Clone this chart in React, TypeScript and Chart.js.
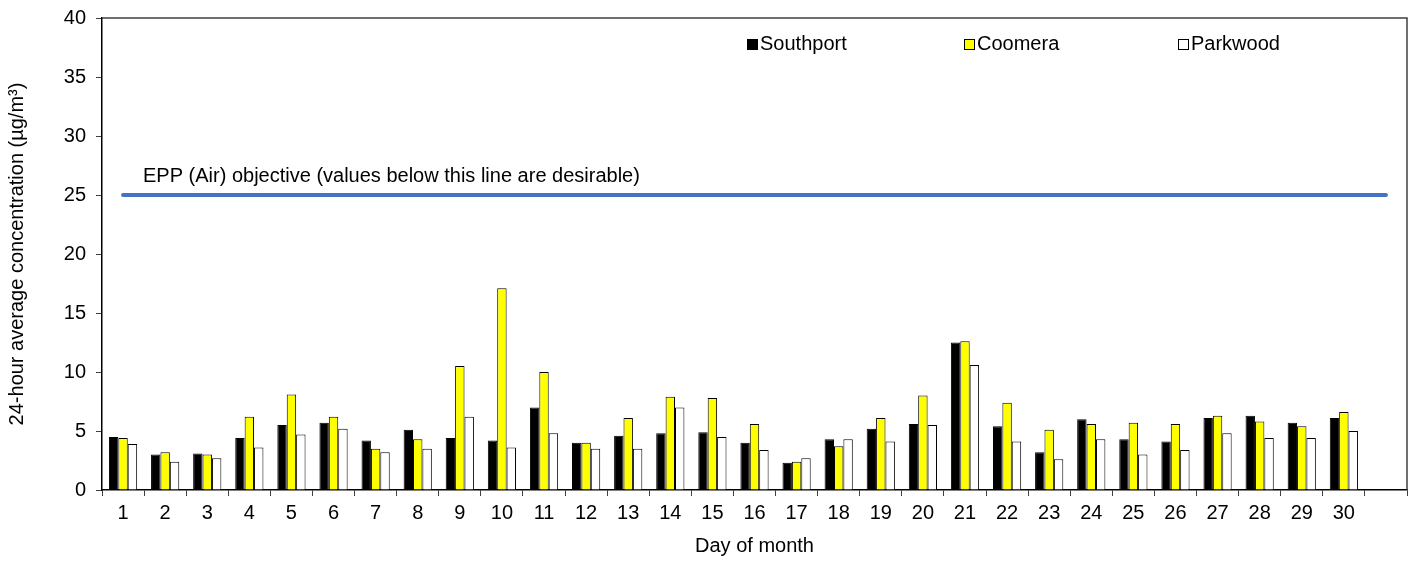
import React, { useEffect, useRef } from "react";
import { Chart, registerables } from "chart.js";

Chart.register(...registerables);

const days = ["1","2","3","4","5","6","7","8","9","10","11","12","13","14","15","16","17","18","19","20","21","22","23","24","25","26","27","28","29","30",""];

const southport = [4.5,3.0,3.1,4.4,5.5,5.7,4.2,5.1,4.4,4.2,7.0,4.0,4.6,4.8,4.9,4.0,2.3,4.3,5.2,5.6,12.5,5.4,3.2,6.0,4.3,4.1,6.1,6.3,5.7,6.1,null];
const coomera = [4.4,3.2,3.0,6.2,8.1,6.2,3.5,4.3,10.5,17.1,10.0,4.0,6.1,7.9,7.8,5.6,2.4,3.7,6.1,8.0,12.6,7.4,5.1,5.6,5.7,5.6,6.3,5.8,5.4,6.6,null];
const parkwood = [3.9,2.4,2.7,3.6,4.7,5.2,3.2,3.5,6.2,3.6,4.8,3.5,3.5,7.0,4.5,3.4,2.7,4.3,4.1,5.5,10.6,4.1,2.6,4.3,3.0,3.4,4.8,4.4,4.4,5.0,null];

const objectiveValue = 25;
const objectiveLabel = "EPP (Air) objective (values below this line are desirable)";
const yTicks = [0, 5, 10, 15, 20, 25, 30, 35, 40];

const seriesNames = ["Southport", "Coomera", "Parkwood"];
const seriesColors = ["#000000", "#FFFF00", "#FFFFFF"];

const FONT = "'Liberation Sans', Arial, sans-serif";

const overlayPlugin = {
  id: "overlay",
  afterDraw(chart: any) {
    const { ctx, chartArea, scales } = chart;
    ctx.save();
    // chart area frame (top and right)
    ctx.strokeStyle = "#404040";
    ctx.lineWidth = 1.5;
    ctx.beginPath();
    ctx.moveTo(chartArea.left, chartArea.top);
    ctx.lineTo(chartArea.right, chartArea.top);
    ctx.lineTo(chartArea.right, chartArea.bottom);
    ctx.stroke();

    // objective label
    ctx.fillStyle = "#000";
    ctx.font = `20px ${FONT}`;
    ctx.textBaseline = "alphabetic";
    ctx.textAlign = "left";
    const yLine = scales.y.getPixelForValue(objectiveValue);
    ctx.fillText(objectiveLabel, chartArea.left + 41, yLine - 13);

    // legend
    const offsets = [645, 862, 1076];
    const boxTop = chartArea.top + 21;
    const baseline = chartArea.top + 32;
    seriesNames.forEach((name, i) => {
      const x = chartArea.left + offsets[i];
      ctx.fillStyle = seriesColors[i];
      ctx.fillRect(x, boxTop, 10, 10);
      ctx.strokeStyle = "#000";
      ctx.lineWidth = 1;
      ctx.strokeRect(x + 0.5, boxTop + 0.5, 10, 10);
      ctx.fillStyle = "#000";
      ctx.fillText(name, x + 13, baseline);
    });
    ctx.restore();
  },
};

export default function App() {
  const ref = useRef<HTMLCanvasElement | null>(null);
  useEffect(() => {
    if (!ref.current) return;
    const chart = new Chart(ref.current, {
      type: "bar",
      data: {
        labels: days,
        datasets: [
          {
            type: "line",
            label: "Objective",
            data: days.map(() => objectiveValue),
            borderColor: "#4472C4",
            borderWidth: 4,
            borderCapStyle: "round",
            pointRadius: 0,
            fill: false,
          } as any,
          ...seriesNames.map((name, i) => ({
            label: name,
            data: [southport, coomera, parkwood][i],
            backgroundColor: seriesColors[i],
            borderColor: "#000",
            borderWidth: 1,
            categoryPercentage: 0.67,
            barPercentage: 1.0,
          })),
        ],
      },
      options: {
        responsive: false,
        animation: false,
        layout: { padding: { top: 18, right: 11, left: 0, bottom: 0 } },
        plugins: { legend: { display: false }, tooltip: { enabled: false } },
        scales: {
          x: {
            grid: {
              display: true,
              drawOnChartArea: false,
              drawTicks: true,
              tickLength: 6,
              color: "#404040",
              offset: true,
            },
            border: { display: true, color: "#000", width: 1.5 },
            ticks: { color: "#000", font: { family: FONT, size: 20 }, padding: 5, maxRotation: 0, autoSkip: false },
            title: { display: true, text: "Day of month", color: "#000", font: { family: FONT, size: 20 }, padding: { top: 0, bottom: 3 } },
            afterFit: (s: any) => { s.height = 71; s.paddingLeft = 0; s.paddingRight = 0; },
          },
          y: {
            min: 0,
            max: 40,
            afterBuildTicks: (s: any) => { s.ticks = yTicks.map((v) => ({ value: v })); },
            grid: { display: true, drawOnChartArea: false, drawTicks: true, tickLength: 6, color: "#404040" },
            border: { display: true, color: "#000", width: 1.5 },
            ticks: { color: "#000", font: { family: FONT, size: 20 }, padding: 10 },
            title: { display: true, text: "24-hour average concentration (µg/m³)", color: "#000", font: { family: FONT, size: 20 }, padding: { top: 5, bottom: 0 } },
            afterFit: (s: any) => { s.width = 102; s.paddingTop = 0; s.paddingBottom = 0; },
          },
        },
      },
      plugins: [overlayPlugin],
    } as any);
    return () => chart.destroy();
  }, []);
  return (
    <div style={{ position: "absolute", left: 0, top: 0, width: 1418, height: 561, background: "#fff" }}>
      <canvas ref={ref} width={1418} height={561} style={{ display: "block" }} />
    </div>
  );
}
